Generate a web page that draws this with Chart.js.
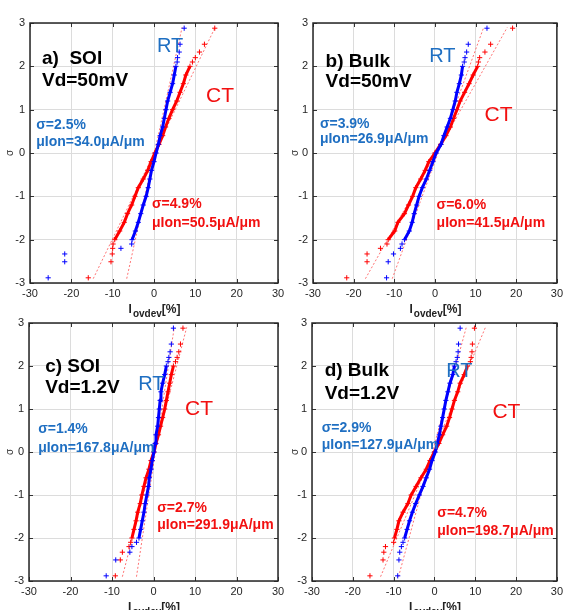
<!DOCTYPE html>
<html>
<head>
<meta charset="utf-8">
<script src="https://cdn.jsdelivr.net/npm/chart.js@4"></script>
<style>
  html, body { margin:0; padding:0; background:#ffffff; }
  body { width:567px; height:610px; position:relative; overflow:hidden; }
  .pane { position:absolute; }
</style>
</head>
<body>
<div class="pane" id="pa" style="left:0px;top:0px;"><canvas id="ca" width="290" height="320"></canvas></div>
<div class="pane" id="pb" style="left:285px;top:0px;"><canvas id="cb" width="282" height="320"></canvas></div>
<div class="pane" id="pc" style="left:0px;top:305px;"><canvas id="cc" width="290" height="305"></canvas></div>
<div class="pane" id="pd" style="left:285px;top:305px;"><canvas id="cd" width="282" height="305"></canvas></div>
<script>
// ---------------- data ----------------
// normal-quantile levels (sigma) of the plotted points
const sigmaLevels = [-2.88, -2.51, -2.33, -2.20, -2.10, -2.0, -1.8, -1.6, -1.4, -1.2, -1.0, -0.8, -0.6, -0.4, -0.2, 0, 0.2, 0.4, 0.6, 0.8, 1.0, 1.2, 1.4, 1.6, 1.8, 2.0, 2.10, 2.20, 2.33, 2.51, 2.88];
// Iovdev [%] at each level
const soi50RT  = [-25.6, -21.6, -21.6, -8.0, -5.4, -5.3, -4.5, -3.8, -3.2, -2.6, -1.9, -1.4, -1.0, -0.6, 0, 0.5, 1.05, 1.5, 2.1, 2.5, 2.9, 3.3, 3.9, 4.5, 4.9, 5.3, 5.6, 5.7, 6.1, 6.3, 7.3];
const soi50CT  = [-15.9, -10.4, -10.1, -10.0, -9.9, -9.5, -8.3, -7.2, -6.4, -5.4, -4.6, -3.8, -2.6, -1.5, -0.7, 0.2, 1.2, 2.1, 2.8, 3.6, 4.5, 5.5, 6.3, 7.1, 7.7, 8.7, 9.3, 10.0, 11.0, 12.2, 14.7];
const bulk50RT = [-11.9, -11.5, -10.2, -8.5, -8.1, -7.5, -6.3, -5.6, -5.1, -4.5, -3.9, -3.1, -2.1, -1.3, -0.5, 0.3, 1.5, 2.2, 3.0, 3.8, 4.4, 5.0, 5.4, 6.0, 6.5, 6.8, 7.2, 7.4, 7.8, 8.2, 12.8];
const bulk50CT = [-21.7, -16.7, -16.7, -13.4, -11.8, -11.5, -9.9, -9.1, -7.5, -6.5, -5.5, -4.7, -3.5, -2.4, -1.5, 0, 1.4, 2.7, 3.8, 4.6, 5.4, 6.2, 7.3, 8.4, 9.4, 10.5, 10.7, 11.0, 12.3, 13.7, 19.1];
const soi12RT  = [-11.4, -9.1, -5.7, -5.2, -4.1, -3.5, -3.1, -2.7, -2.3, -2.0, -1.6, -1.2, -1.0, -0.6, -0.3, 0.1, 0.4, 0.6, 1.0, 1.2, 1.4, 1.6, 1.8, 2.2, 2.7, 3.1, 3.5, 3.7, 4.0, 4.3, 4.8];
const soi12CT  = [-9.2, -8.0, -7.5, -5.9, -5.5, -5.2, -4.7, -4.2, -3.8, -3.2, -2.8, -2.3, -1.8, -1.1, -0.6, 0.1, 0.6, 1.2, 1.7, 2.2, 2.7, 3.1, 3.5, 3.9, 4.3, 4.8, 5.3, 5.7, 6.1, 6.5, 7.1];
const bulk12RT = [-9.0, -8.7, -8.5, -8.1, -7.7, -7.3, -6.7, -6.1, -5.4, -4.6, -3.7, -2.8, -2.0, -1.2, -0.6, 0.2, 0.7, 1.2, 1.6, 2.0, 2.4, 2.8, 3.3, 3.8, 4.5, 4.9, 5.3, 5.6, 5.8, 5.9, 6.3];
const bulk12CT = [-15.8, -12.6, -12.4, -12.0, -10.0, -9.8, -9.2, -8.7, -7.7, -6.5, -5.7, -4.5, -3.3, -2.0, -1.1, 0, 1.1, 2.0, 3.0, 3.7, 4.3, 4.9, 5.7, 6.3, 7.3, 8.1, 8.8, 9.0, 9.2, 9.3, 9.8];
// normal fit reference lines: x at sigma -2.9 and +2.9
const fitSigma = [-2.9, 2.9];
const soi50RTfit  = [-6.6, 6.8];
const soi50CTfit  = [-14.7, 14.8];
const bulk50RTfit = [-10.5, 12.0];
const bulk50CTfit = [-17.1, 17.8];
const soi12RTfit  = [-4.1, 5.0];
const soi12CTfit  = [-7.5, 8.0];
const bulk12RTfit = [-8.8, 7.8];
const bulk12CTfit = [-13.2, 12.5];
// axis ticks
const xTicks = [-30, -20, -10, 0, 10, 20, 30];
const yTicks = [-3, -2, -1, 0, 1, 2, 3];
// panel texts
const panelTitles = [["a)  SOI", "Vd=50mV"], ["b) Bulk", "Vd=50mV"], ["c) SOI", "Vd=1.2V"], ["d) Bulk", "Vd=1.2V"]];
const rtStats = [["σ=2.5%", "μIon=34.0μA/μm"], ["σ=3.9%", "μIon=26.9μA/μm"], ["σ=1.4%", "μIon=167.8μA/μm"], ["σ=2.9%", "μIon=127.9μA/μm"]];
const ctStats = [["σ=4.9%", "μIon=50.5μA/μm"], ["σ=6.0%", "μIon=41.5μA/μm"], ["σ=2.7%", "μIon=291.9μA/μm"], ["σ=4.7%", "μIon=198.7μA/μm"]];

// ---------------- drawing ----------------
const FONT = "'Liberation Sans', Arial, sans-serif";
const BLUE = '#0000ff', RED = '#ff0000', TXTBLUE = '#1f6fc2', TXTRED = '#f21010';

function pts(xs, ys) { return xs.map((x, i) => ({ x: x, y: ys[i] })); }

const panels = [
  { canvas: 'ca', W: 290, H: 320, l: 30, r: 278, t: 23, b: 283, rt: soi50RT, ct: soi50CT, rtFit: soi50RTfit, ctFit: soi50CTfit, k: 0,
    pos: { title: [-27.1, 2.05, 1.55], rt: [0.7, 2.33], ct: [12.6, 1.18], rs: [-28.5, 0.55, 0.16], cs: [-0.5, -1.27, -1.71] } },
  { canvas: 'cb', W: 282, H: 320, l: 28, r: 277, t: 23, b: 283, rt: bulk50RT, ct: bulk50CT, rtFit: bulk50RTfit, ctFit: bulk50CTfit, k: 1,
    pos: { title: [-26.9, 1.99, 1.52], rt: [-1.4, 2.09], ct: [12.2, 0.75], rs: [-28.3, 0.57, 0.22], cs: [0.4, -1.30, -1.70] } },
  { canvas: 'cc', W: 290, H: 305, l: 29, r: 278, t: 18, b: 276, rt: soi12RT, ct: soi12CT, rtFit: soi12RTfit, ctFit: soi12CTfit, k: 2,
    pos: { title: [-26.1, 1.87, 1.37], rt: [-3.7, 1.45], ct: [7.6, 0.87], rs: [-27.8, 0.44, 0.01], cs: [0.9, -1.40, -1.78] } },
  { canvas: 'cd', W: 282, H: 305, l: 27, r: 275, t: 18, b: 276, rt: bulk12RT, ct: bulk12CT, rtFit: bulk12RTfit, ctFit: bulk12CTfit, k: 3,
    pos: { title: [-26.9, 1.76, 1.24], rt: [2.9, 1.74], ct: [14.2, 0.80], rs: [-27.6, 0.46, 0.08], cs: [0.7, -1.50, -1.92] } }
];

const framePlugin = {
  id: 'frame',
  afterDraw(chart, args, opts) {
    const ctx = chart.ctx, a = chart.chartArea, xs = chart.scales.x, ys = chart.scales.y;
    const p = opts.panel;
    ctx.save();
    // inner tick marks
    ctx.strokeStyle = '#333333'; ctx.lineWidth = 1;
    ctx.beginPath();
    xTicks.forEach(v => { const X = Math.round(xs.getPixelForValue(v)) + 0.5;
      ctx.moveTo(X, a.top); ctx.lineTo(X, a.top + 4); ctx.moveTo(X, a.bottom); ctx.lineTo(X, a.bottom - 4); });
    yTicks.forEach(v => { const Y = Math.round(ys.getPixelForValue(v)) + 0.5;
      ctx.moveTo(a.left, Y); ctx.lineTo(a.left + 4, Y); ctx.moveTo(a.right, Y); ctx.lineTo(a.right - 4, Y); });
    ctx.stroke();
    // box
    ctx.strokeStyle = '#262626'; ctx.lineWidth = 1.5;
    ctx.strokeRect(a.left, a.top, a.right - a.left, a.bottom - a.top);
    // x axis title  I_ovdev[%]
    const cx = (a.left + a.right) / 2, by = a.bottom + 30;
    ctx.fillStyle = '#222222'; ctx.textBaseline = 'alphabetic'; ctx.textAlign = 'left';
    const f1 = 'bold 12px ' + FONT, f2 = 'bold 10px ' + FONT;
    ctx.font = f1; const w1 = ctx.measureText('I').width, w3 = ctx.measureText('[%]').width;
    ctx.font = f2; const w2 = ctx.measureText('ovdev').width;
    let x0 = cx - (w1 + w2 + w3) / 2;
    ctx.font = f1; ctx.fillText('I', x0, by);
    ctx.font = f2; ctx.fillText('ovdev', x0 + w1 + 1, by + 4);
    ctx.font = f1; ctx.fillText('[%]', x0 + w1 + w2 + 1, by);
    // annotations
    const P = p.pos, k = p.k;
    const px = v => xs.getPixelForValue(v), py = v => ys.getPixelForValue(v);
    ctx.fillStyle = '#000000'; ctx.font = 'bold 19px ' + FONT;
    ctx.fillText(panelTitles[k][0], px(P.title[0]), py(P.title[1]));
    ctx.fillText(panelTitles[k][1], px(P.title[0]), py(P.title[2]));
    ctx.font = '20px ' + FONT; ctx.fillStyle = TXTBLUE;
    ctx.fillText('RT', px(P.rt[0]), py(P.rt[1]));
    ctx.font = '21px ' + FONT; ctx.fillStyle = TXTRED;
    ctx.fillText('CT', px(P.ct[0]), py(P.ct[1]));
    ctx.font = 'bold 14px ' + FONT; ctx.fillStyle = TXTBLUE;
    ctx.fillText(rtStats[k][0], px(P.rs[0]), py(P.rs[1]));
    ctx.fillText(rtStats[k][1], px(P.rs[0]), py(P.rs[2]));
    ctx.fillStyle = TXTRED;
    ctx.fillText(ctStats[k][0], px(P.cs[0]), py(P.cs[1]));
    ctx.fillText(ctStats[k][1], px(P.cs[0]), py(P.cs[2]));
    ctx.restore();
  }
};

panels.forEach(p => {
  const core = (xs) => pts(xs.slice(5, 26), sigmaLevels.slice(5, 26));
  const fitDs = (xs) => ({ data: pts(xs, fitSigma), showLine: true, borderColor: 'rgba(255,70,70,0.75)', borderWidth: 1,
                           borderDash: [2, 2], pointRadius: 0 });
  new Chart(document.getElementById(p.canvas), {
    type: 'scatter',
    data: {
      datasets: [
        { data: pts(p.rt, sigmaLevels), pointStyle: 'cross', pointRadius: 2.6, borderColor: BLUE, borderWidth: 1, showLine: false },
        { data: core(p.rt), showLine: true, borderColor: BLUE, borderWidth: 3, pointRadius: 0 },
        { data: pts(p.ct, sigmaLevels), pointStyle: 'cross', pointRadius: 2.6, borderColor: RED, borderWidth: 1, showLine: false },
        { data: core(p.ct), showLine: true, borderColor: RED, borderWidth: 3, pointRadius: 0 },
        fitDs(p.rtFit),
        fitDs(p.ctFit)
      ]
    },
    options: {
      responsive: false, animation: false, events: [],
      layout: { padding: { left: 0, right: p.W - p.r, top: p.t, bottom: 0 } },
      plugins: { legend: { display: false }, tooltip: { enabled: false }, frame: { panel: p } },
      scales: {
        x: { type: 'linear', min: -30, max: 30,
             afterBuildTicks: s => { s.ticks = xTicks.map(v => ({ value: v })); },
             ticks: { padding: 4, color: '#262626', font: { size: 11, family: FONT } },
             grid: { color: '#dcdcdc', drawTicks: false }, border: { display: false },
             afterFit: s => { s.height = p.H - p.b; } },
        y: { type: 'linear', min: -3, max: 3,
             afterBuildTicks: s => { s.ticks = yTicks.map(v => ({ value: v })); },
             ticks: { padding: 5, color: '#262626', font: { size: 11, family: FONT } },
             grid: { color: '#dcdcdc', drawTicks: false }, border: { display: false },
             title: { display: true, text: 'σ', color: '#333333', font: { size: 10, family: FONT }, padding: { top: 4, bottom: 0 } },
             afterFit: s => { s.width = p.l; } }
      }
    },
    plugins: [framePlugin]
  });
});
</script>
</body>
</html>
